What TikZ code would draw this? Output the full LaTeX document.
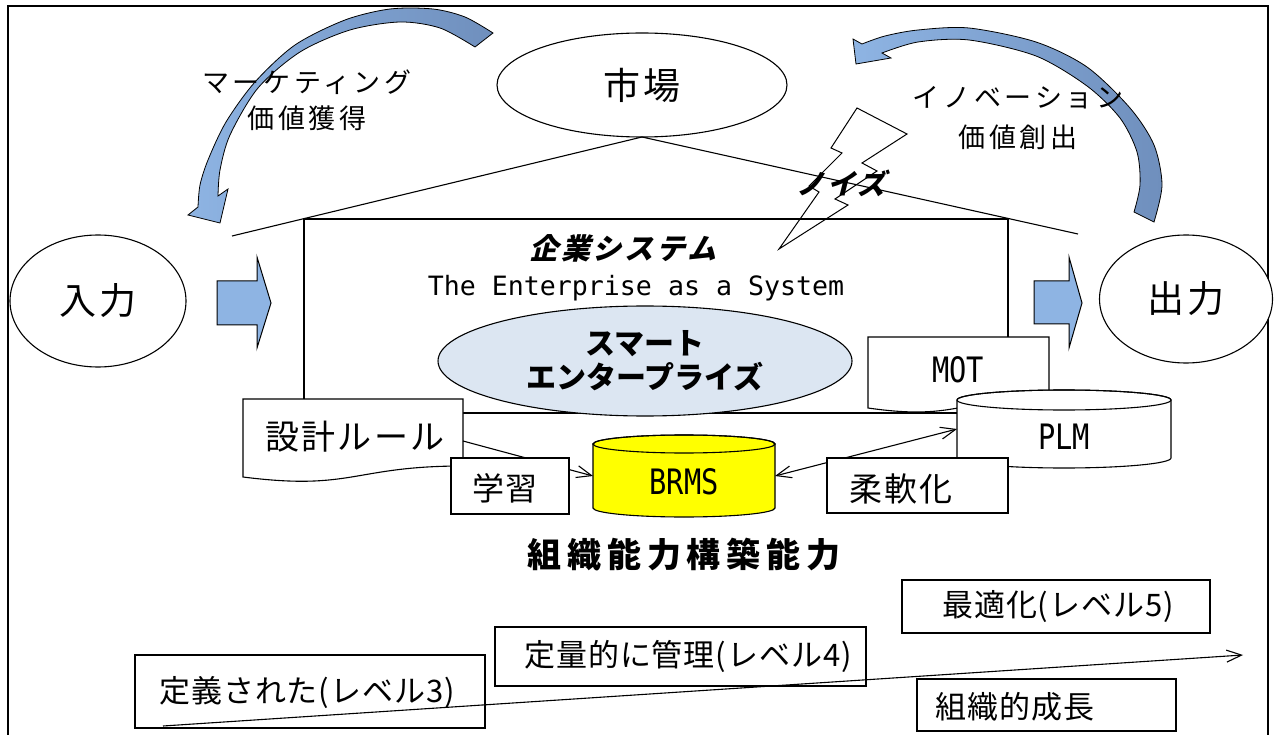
\documentclass[tikz,border=0pt]{standalone}
\usepackage{fontspec}
\usetikzlibrary{shapes.geometric,arrows.meta}
\setmainfont{Noto Sans CJK JP}
\newfontfamily\jpA{Noto Sans CJK JP}[LetterSpace=10]
\newfontfamily\jpB{Noto Sans CJK JP}[LetterSpace=14]
\newfontfamily\jpC{Noto Sans CJK JP}[LetterSpace=6]
\newfontfamily\jpD{Noto Sans CJK JP}[LetterSpace=17]
\newfontfamily\jpE{Noto Sans CJK JP}[LetterSpace=3]
\newfontfamily\jpit{Noto Sans CJK JP}[FakeSlant=0.25,LetterSpace=10]
\newfontfamily\monof{DejaVu Sans Mono}
\newfontfamily\narrowf{DejaVu Sans Mono}[FakeStretch=0.82]
\newcommand{\setfs}[1]{\fontsize{#1}{#1}\selectfont}
\newcommand{\setfsl}[2]{\fontsize{#1}{#2}\selectfont}
\definecolor{arrowlight}{HTML}{8EB4E3}
\definecolor{arrowdark}{HTML}{6F8FBD}
\definecolor{smartfill}{HTML}{DCE6F2}
\definecolor{brmsfill}{HTML}{FFFF00}
\begin{document}
\begin{tikzpicture}[x=1pt,y=-1pt,line width=1.1pt,
  every node/.style={inner sep=0pt,outer sep=0pt},
  box/.style={draw,fill=white,rectangle},
  oval/.style={draw,fill=white,ellipse},
  openarrow/.style={-{Straight Barb[length=15pt,width=12pt]}},
  bothopen/.style={{Straight Barb[length=15pt,width=12pt]}-{Straight Barb[length=15pt,width=12pt]}},
  blockarrow/.style={draw=black,line width=1pt,fill=arrowlight},
  curvedarrow/.style={draw=black,line width=0.8pt,left color=arrowlight,right color=arrowdark}]
\useasboundingbox (0,0) rectangle (1277,735);
% frame
\draw[line width=2.6pt] (8,745) -- (8,6) -- (1268,6) -- (1268,745);
% market ellipse
\node[oval,minimum width=290pt,minimum height=104pt,font=\jpA\setfs{37}] (ichiba) at (642,85) {市場};
% roof
\coordinate (roofL) at (232,236);
\coordinate (roofR) at (1078,234);
\draw (roofL) -- (ichiba.south) -- (roofR);
% enterprise box
\draw (304,219) rectangle (1008,413);
% input / output
\node[oval,minimum width=176pt,minimum height=132pt,font=\jpA\setfs{37}] (nyuryoku) at (98,301) {入力};
\node[oval,minimum width=173pt,minimum height=128pt,font=\jpA\setfs{37}] (shutsuryoku) at (1186,299) {出力};
% block arrows
\path[blockarrow] (217,281) -- (257,281) -- (257,257) -- (271,303) -- (257,348) -- (257,325) -- (217,325) -- cycle;
\path[blockarrow] (1034,281) -- (1069,281) -- (1069,257) -- (1082,303) -- (1069,348) -- (1069,324) -- (1034,324) -- cycle;
% curved arrows
\path[curvedarrow] plot[smooth] coordinates {(493,33) (465,17) (433,9) (390,9) (345,20) (295,45) (255,82) (226,122) (208,160) (200,185) (198,207)}
  -- (188,215) -- (220,223) -- (228,189)
  -- plot[smooth] coordinates {(218,196) (220,170) (230,135) (258,88) (300,52) (350,30) (400,22) (440,28) (475,47)} -- cycle;
\path[curvedarrow] plot[smooth] coordinates {(1154,222) (1162,185) (1154,145) (1130,108) (1087,67) (1036,42) (969,28) (918,30) (885,36) (862,44)}
  -- (853,39) -- (856,64) -- (891,58)
  -- plot[smooth] coordinates {(882,53) (918,42) (969,40) (1036,56) (1087,86) (1120,118) (1137,152) (1140,185) (1134,212)} -- cycle;
% lightning
\draw[line width=1pt] (857,108) -- (907,134) -- (862,163) -- (877,171) -- (835,199) -- (848,205) -- (779,249) -- (819,192) -- (809,186) -- (842,153) -- (831,148) -- cycle;
% labels top
\node[align=center,font=\jpB\setfsl{27}{36}] (marketing) at (307,100) {マーケティング\\価値獲得};
\node[align=center,font=\jpB\setfsl{27}{40}] (innovation) at (1018,118) {イノベーション\\価値創出};
\node[font=\jpit\bfseries\setfs{28}] (noise) at (841,183) {ノイズ};
\node[font=\jpit\bfseries\setfs{29}] (kigyo) at (623,248) {企業システム};
\node[font=\monof\setfs{26.6}] (enterprise) at (636,288) {The Enterprise as a System};
% smart enterprise
\node[draw,ellipse,fill=smartfill,minimum width=414pt,minimum height=110pt,align=center,font=\bfseries\setfsl{30}{34}] (smart) at (645,361) {スマート\\エンタープライズ};
% MOT document
\path[draw,fill=white] (868,337) -- (1049,337) -- (1049,398) .. controls (958.5,398) and (958.5,421) .. (868,408) -- cycle;
\node[font=\narrowf\setfs{35}] (mot) at (958,370) {MOT};
% design rule document
\node[minimum width=220pt,minimum height=84pt] (design) at (353,441) {};
\path[draw,fill=white] (243,399) -- (463,399) -- (463,466) .. controls (353,466) and (353,491) .. (243,477) -- cycle;
\node[font=\jpC\setfs{34}] (designtext) at (355,437) {設計ルール};
% BRMS cylinder
\node[minimum width=182pt,minimum height=64pt] (brms) at (684,476) {};
\path[draw,fill=brmsfill] (593,444) -- (593,508) arc[start angle=180,end angle=0,x radius=91,y radius=9] -- (775,444) arc[start angle=0,end angle=-180,x radius=91,y radius=9] -- cycle;
\draw (684,444) ellipse[x radius=91,y radius=9];
\node[font=\narrowf\setfs{35}] (brmstext) at (684,482) {BRMS};
% PLM cylinder
\node[minimum width=214pt,minimum height=58pt] (plm) at (1064,429) {};
\path[draw,fill=white] (957,400) -- (957,458) arc[start angle=180,end angle=0,x radius=107,y radius=10] -- (1171,400) arc[start angle=0,end angle=-180,x radius=107,y radius=10] -- cycle;
\draw (1064,400) ellipse[x radius=107,y radius=10];
\node[font=\narrowf\setfs{35}] (plmtext) at (1064,437) {PLM};
% connectors
\draw[openarrow] (design.east) -- (brms.west);
\draw[bothopen] (brms.east) -- (plm.west);
% small boxes
\node[box,minimum width=118pt,minimum height=56pt] (gakushu) at (510,486) {};
\node[font=\jpC\setfs{32}] (gakushutext) at (505,488) {学習};
\node[box,minimum width=181pt,minimum height=55pt] (junan) at (917.5,485.5) {};
\node[font=\jpC\setfs{33}] (junantext) at (901,489) {柔軟化};
% capability title
\node[font=\jpD\bfseries\setfs{34}] (soshiki) at (684,555) {組織能力構築能力};
% level boxes
\node[box,minimum width=350pt,minimum height=73pt] (lv3) at (310,691.5) {};
\node[font=\jpE\setfs{31}] (lv3text) at (307,692) {定義された(レベル3)};
\node[box,minimum width=371pt,minimum height=59pt] (lv4) at (680.5,656.5) {};
\node[font=\jpE\setfs{31}] (lv4text) at (688,656) {定量的に管理(レベル4)};
\node[box,minimum width=308pt,minimum height=53pt] (lv5) at (1056,606.5) {};
\node[font=\jpE\setfs{31}] (lv5text) at (1058,607) {最適化(レベル5)};
\node[box,minimum width=259pt,minimum height=52pt] (grow) at (1046.5,705) {};
\node[font=\jpE\setfs{31}] (growtext) at (1015,707) {組織的成長};
% growth arrow
\coordinate (growstart) at (163,726);
\coordinate (growend) at (1243,655);
\draw[openarrow] (growstart) -- (growend);
\end{tikzpicture}
\end{document}
